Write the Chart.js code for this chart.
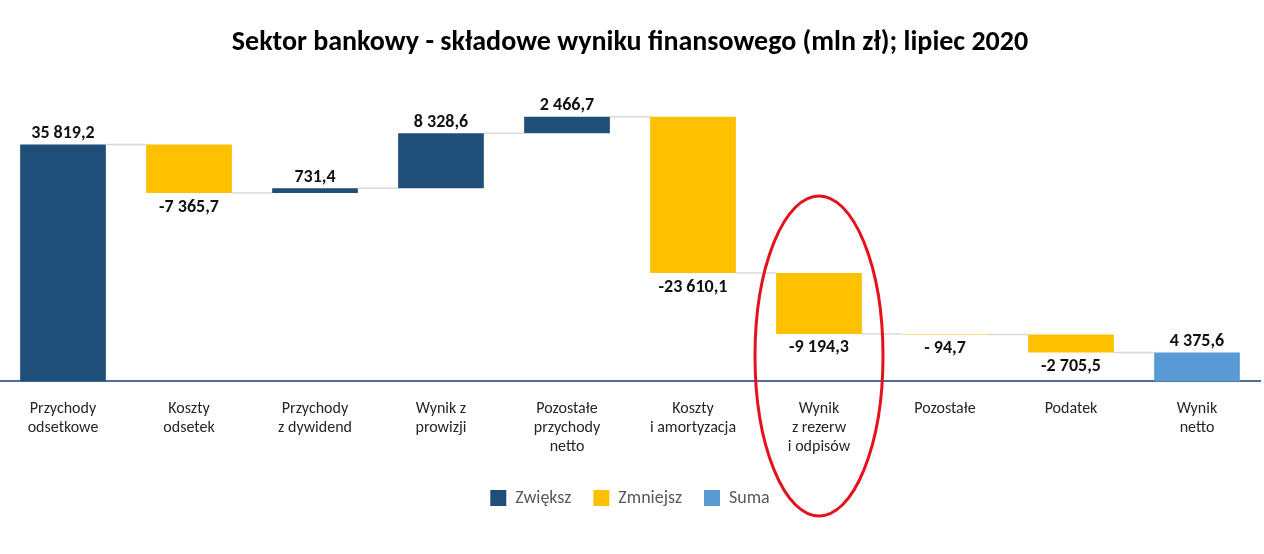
<!DOCTYPE html>
<html>
<head>
<meta charset="utf-8">
<script src="https://cdn.jsdelivr.net/npm/chart.js@4"></script>
<style>
  html, body { margin: 0; padding: 0; background: #fff; }
  #wrap { width: 1264px; height: 554px; position: relative; }
</style>
</head>
<body>
<div id="wrap"><canvas id="chart"></canvas></div>
<script>
// ── Data ──
const categories = [
  ['Przychody', 'odsetkowe'],
  ['Koszty', 'odsetek'],
  ['Przychody', 'z dywidend'],
  ['Wynik z', 'prowizji'],
  ['Pozostałe', 'przychody', 'netto'],
  ['Koszty', 'i amortyzacja'],
  ['Wynik', 'z rezerw', 'i odpisów'],
  'Pozostałe',
  'Podatek',
  ['Wynik', 'netto']
]
const changes   = [35819.2, -7365.7, 731.4, 8328.6, 2466.7, -23610.1, -9194.3, -94.7, -2705.5]
const netResult = 4375.6
const legendNames = ['Zwiększ', 'Zmniejsz', 'Suma']

const DARK   = '#1f4e79'
const YELLOW = '#ffc000'
const LIGHT  = '#5b9bd5'
const FONT   = "Carlito, Lato, 'Open Sans', sans-serif"

// ── Build floating ranges ──
const ranges = []
let run = 0
changes.forEach(v => { ranges.push([run, run + v]); run += v })
ranges.push([0, netResult])
const values = changes.concat([netResult])
const last = values.length - 1

const incData = ranges.map((r, i) => (i < last && values[i] > 0) ? r : null)
const decData = ranges.map((r, i) => (i < last && values[i] < 0) ? r : null)
const sumData = ranges.map((r, i) => i === last ? r : null)

function fmt(v) {
  const a = Math.abs(v)
  const s = a.toFixed(1).replace('.', ',').replace(/\B(?=(\d{3})+(?!\d))/g, ' ')
  return (v < 0 ? '-' : '') + (a < 1000 && v < 0 ? ' ' : '') + s
}

// ── Connectors + value labels ──
const waterfallDeco = {
  id: 'waterfallDeco',
  beforeDatasetsDraw(chart) {
    const { ctx, scales: { x, y } } = chart
    const step = x.getPixelForValue(1) - x.getPixelForValue(0)
    const bw = step * 0.68 / 2
    ctx.save()
    ctx.strokeStyle = '#d9d9d9'
    ctx.lineWidth = 1.5
    for (let i = 0; i < last; i++) {
      const yy = y.getPixelForValue(ranges[i][1])
      ctx.beginPath()
      ctx.moveTo(x.getPixelForValue(i) + bw, yy)
      ctx.lineTo(x.getPixelForValue(i + 1) - bw, yy)
      ctx.stroke()
    }
    ctx.restore()
  },
  afterDatasetsDraw(chart) {
    const { ctx, scales: { x, y } } = chart
    ctx.save()
    ctx.font = 'bold 18px ' + FONT
    ctx.fillStyle = '#111'
    ctx.textAlign = 'center'
    ctx.textBaseline = 'middle'
    values.forEach((v, i) => {
      const [a, b] = ranges[i]
      const cx = x.getPixelForValue(i)
      if (v >= 0) ctx.fillText(fmt(v), cx, y.getPixelForValue(Math.max(a, b)) - 11)
      else ctx.fillText(fmt(v), cx, y.getPixelForValue(Math.min(a, b)) + 14)
    })
    ctx.restore()
  },
  afterDraw(chart) {
    // red hand-drawn ellipse around "Wynik z rezerw i odpisów"
    const { ctx, scales: { x } } = chart
    ctx.save()
    ctx.strokeStyle = '#e3131b'
    ctx.lineWidth = 3
    ctx.beginPath()
    ctx.ellipse(x.getPixelForValue(6), 356, 64, 160, 0, 0, Math.PI * 2)
    ctx.stroke()
    ctx.restore()
  }
}

const common = { borderWidth: 0, categoryPercentage: 0.8, barPercentage: 0.85 }

new Chart(document.getElementById('chart'), {
  type: 'bar',
  data: {
    labels: categories,
    datasets: [
      { label: legendNames[0], data: incData, backgroundColor: DARK, ...common },
      { label: legendNames[1], data: decData, backgroundColor: YELLOW, ...common },
      { label: legendNames[2], data: sumData, backgroundColor: LIGHT, ...common }
    ]
  },
  options: {
    responsive: true,
    maintainAspectRatio: false,
    animation: false,
    skipNull: true,
    layout: { padding: { left: 0, right: 4, top: 0, bottom: 37 } },
    plugins: {
      title: {
        display: true,
        text: 'Sektor bankowy - składowe wyniku finansowego (mln zł); lipiec 2020',
        color: '#000',
        font: { family: FONT, size: 28, weight: 'bold' },
        padding: { top: 26, bottom: 28 }
      },
      legend: {
        position: 'bottom',
        labels: {
          boxWidth: 16, boxHeight: 16, padding: 22,
          color: '#595959',
          font: { family: FONT, size: 18 }
        }
      },
      tooltip: { enabled: false }
    },
    scales: {
      x: {
        grid: { display: false },
        border: { color: '#4a6d9c', width: 2 },
        ticks: { color: '#262626', font: { family: FONT, size: 16, lineHeight: 1.2 }, padding: 10, maxRotation: 0, autoSkip: false }
      },
      y: {
        display: false,
        min: 0,
        max: 44400
      }
    }
  },
  plugins: [waterfallDeco]
})
</script>
</body>
</html>
